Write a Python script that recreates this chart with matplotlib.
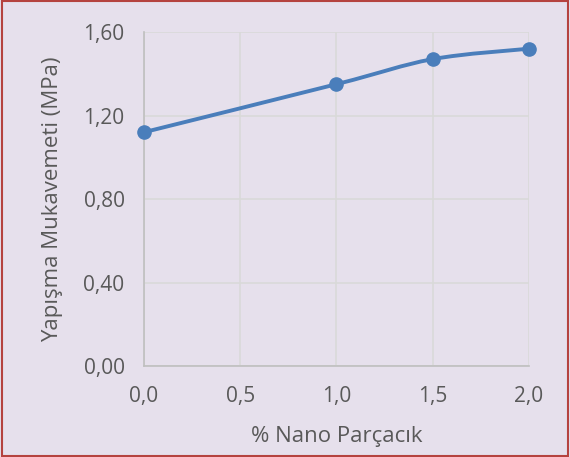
import matplotlib.pyplot as plt
from matplotlib.path import Path
from matplotlib.patches import PathPatch, Rectangle
from matplotlib.ticker import FuncFormatter

# data
nano_pct = [0.0, 1.0, 1.5, 2.0]
strength = [1.12, 1.35, 1.47, 1.52]

x_ticks = [0.0, 0.5, 1.0, 1.5, 2.0]
y_ticks = [0.0, 0.4, 0.8, 1.2, 1.6]

bg = '#E6E0EC'
line_col = '#4A7EBB'
txt_col = '#595959'

plt.rcParams['font.family'] = ['Open Sans', 'DejaVu Sans']

fig = plt.figure(figsize=(5.7, 4.57), dpi=100, facecolor=bg)
ax = fig.add_axes([0.2526, 0.199, 0.6754, 0.731])
ax.set_facecolor(bg)

# smooth line like Excel (Catmull-Rom -> Bezier)
def smooth_path(xs, ys, t=1/6):
    verts = [(xs[0], ys[0])]
    codes = [Path.MOVETO]
    n = len(xs)
    for i in range(n - 1):
        p0 = (xs[max(i - 1, 0)], ys[max(i - 1, 0)])
        p1 = (xs[i], ys[i])
        p2 = (xs[i + 1], ys[i + 1])
        p3 = (xs[min(i + 2, n - 1)], ys[min(i + 2, n - 1)])
        c1 = (p1[0] + (p2[0] - p0[0]) * t, p1[1] + (p2[1] - p0[1]) * t)
        c2 = (p2[0] - (p3[0] - p1[0]) * t, p2[1] - (p3[1] - p1[1]) * t)
        verts += [c1, c2, p2]
        codes += [Path.CURVE4] * 3
    return Path(verts, codes)

ax.add_patch(PathPatch(smooth_path(nano_pct, strength), fill=False,
                       edgecolor=line_col, lw=2.8, capstyle='round', zorder=3))
ax.plot(nano_pct, strength, 'o', color=line_col, ms=9.5, zorder=4, clip_on=False)

ax.set_xlim(0, 2)
ax.set_ylim(0, 1.6)
ax.set_xticks(x_ticks)
ax.set_yticks(y_ticks)
ax.xaxis.set_major_formatter(FuncFormatter(lambda v, p: f'{v:.1f}'.replace('.', ',')))
ax.yaxis.set_major_formatter(FuncFormatter(lambda v, p: f'{v:.2f}'.replace('.', ',')))
ax.grid(True, color='#D9D9D9', lw=1.2)
ax.set_axisbelow(True)
for s in ['top', 'right']:
    ax.spines[s].set_visible(False)
for s in ['left', 'bottom']:
    ax.spines[s].set_color('#BFBFBF')
    ax.spines[s].set_linewidth(1.2)
ax.tick_params(length=0, labelsize=15, colors=txt_col)
ax.tick_params(axis='x', pad=14)
ax.tick_params(axis='y', pad=14)

ax.set_xlabel('% Nano Parçacık', fontsize=16, color=txt_col, labelpad=14)
ax.set_ylabel('Yapışma Mukavemeti (MPa)', fontsize=16, color=txt_col, labelpad=15)

# red outer border
fig.patches.append(Rectangle((0.003, 0.003), 0.994, 0.994, transform=fig.transFigure,
                             fill=False, edgecolor='#B5433F', lw=1.5))

fig.savefig('out.png', dpi=100, facecolor=bg)
